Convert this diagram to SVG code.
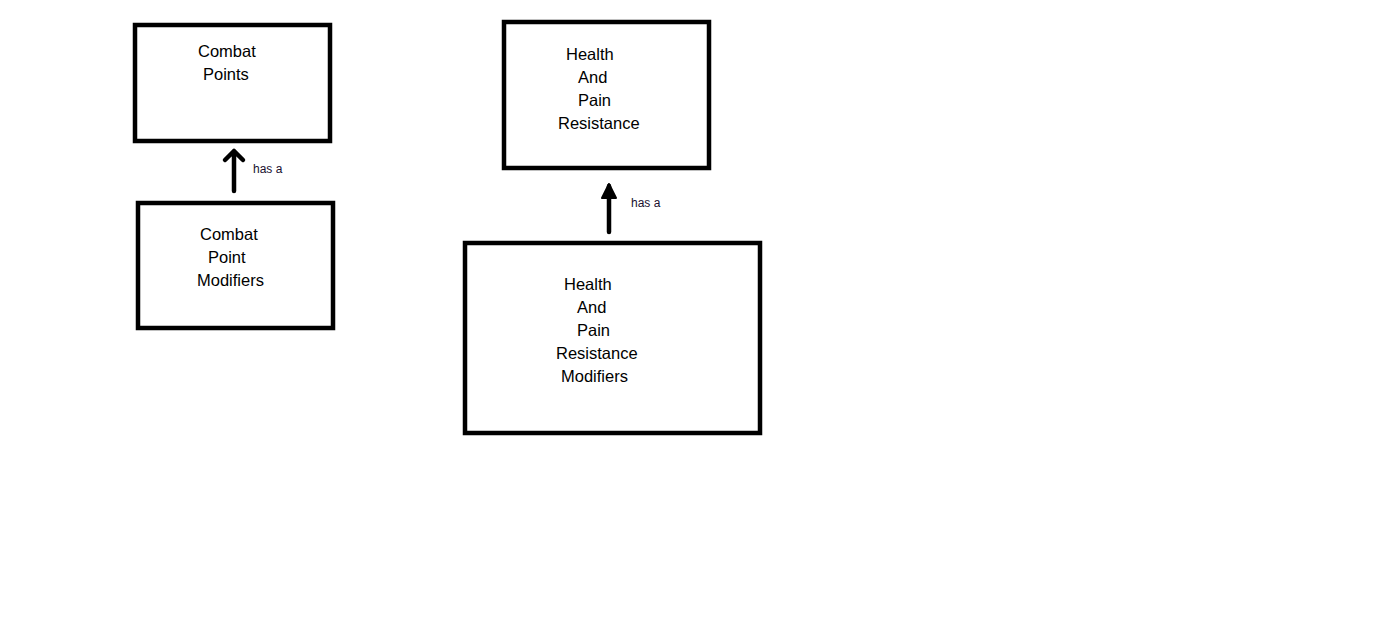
<svg xmlns="http://www.w3.org/2000/svg" width="1398" height="643" viewBox="0 0 1398 643">
<style>
.box{fill:none;stroke:#000;stroke-width:4.5}
.t{font-family:"Liberation Sans",Arial,sans-serif;font-size:16.5px;fill:#000}
.l{font-family:"Liberation Sans",Arial,sans-serif;font-size:12px;fill:#201030}
.c{fill:none;stroke:#000;stroke-width:4.5;stroke-linecap:round;stroke-linejoin:round}
</style>
<rect width="1398" height="643" fill="#fff"/>
<g id="combat-points">
<rect class="box" x="135" y="25" width="195" height="116"/>
<text class="t" x="198" y="57">Combat</text>
<text class="t" x="203" y="80">Points</text>
</g>
<g id="combat-point-modifiers">
<rect class="box" x="138" y="203" width="195" height="125"/>
<text class="t" x="200" y="240">Combat</text>
<text class="t" x="208" y="263">Point</text>
<text class="t" x="197" y="286">Modifiers</text>
</g>
<g id="health-pain-resistance">
<rect class="box" x="504" y="22" width="205" height="146"/>
<text class="t" x="566" y="60">Health</text>
<text class="t" x="578" y="83">And</text>
<text class="t" x="578" y="106">Pain</text>
<text class="t" x="558" y="129">Resistance</text>
</g>
<g id="health-pain-resistance-modifiers">
<rect class="box" x="465" y="243" width="295" height="190"/>
<text class="t" x="564" y="290">Health</text>
<text class="t" x="577" y="313">And</text>
<text class="t" x="577" y="336">Pain</text>
<text class="t" x="556" y="359">Resistance</text>
<text class="t" x="561" y="382">Modifiers</text>
</g>
<g id="connectors">
<path class="c" d="M234 191 V151 M225 160 L234 151 L243 160"/>
<text class="l" x="253" y="173">has a</text>
<path class="c" d="M609 232 V186"/>
<path d="M609 184 L602 198 L616 198 Z" fill="#000" stroke="#000" stroke-width="2" stroke-linejoin="round"/>
<text class="l" x="631" y="207">has a</text>
</g>
</svg>
